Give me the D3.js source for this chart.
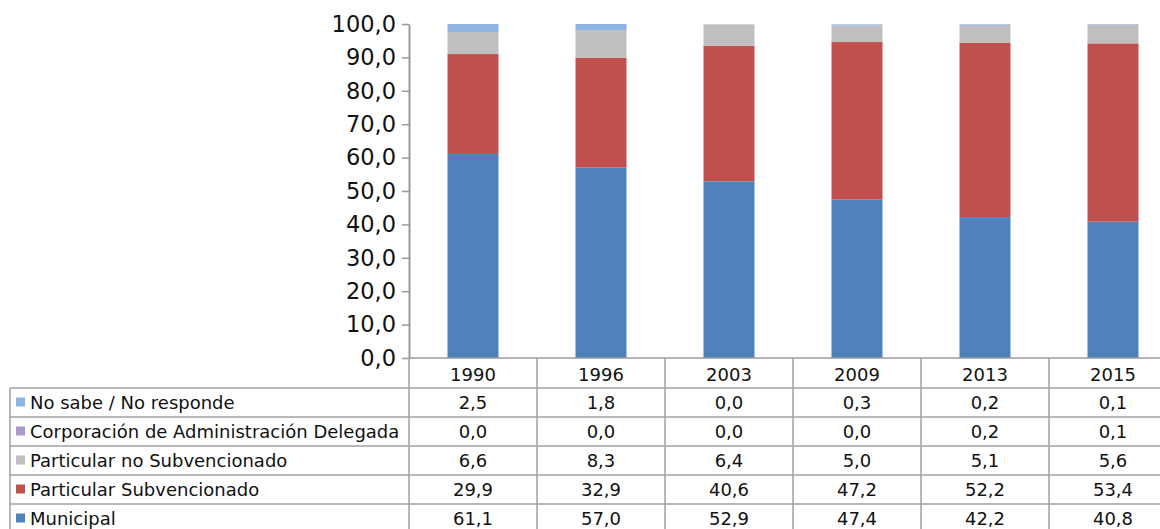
<!DOCTYPE html>
<html><head><meta charset="utf-8">
<script src="https://cdn.jsdelivr.net/npm/d3@7"></script>
<style>body{margin:0;background:#fff;}svg{display:block;font-family:"DejaVu Sans",Verdana,sans-serif;}</style>
</head><body><svg id="c" width="1160" height="529"></svg>
<script>
const years = ["1990","1996","2003","2009","2013","2015"];
const seriesNames = ["No sabe / No responde","Corporación de Administración Delegada","Particular no Subvencionado","Particular Subvencionado","Municipal"];
const noSabe = [2.5,1.8,0.0,0.3,0.2,0.1];
const corporacion = [0.0,0.0,0.0,0.0,0.2,0.1];
const particularNoSub = [6.6,8.3,6.4,5.0,5.1,5.6];
const particularSub = [29.9,32.9,40.6,47.2,52.2,53.4];
const municipal = [61.1,57.0,52.9,47.4,42.2,40.8];
const colors = ["#8DB4E2","#A99BC9","#BFBFBF","#C0504D","#4F81BD"];
const yTicks = [0,10,20,30,40,50,60,70,80,90,100];

const seriesValues = [noSabe, corporacion, particularNoSub, particularSub, municipal];
const svg = d3.select("#c");
const loc = d3.formatLocale({decimal:",",thousands:".",grouping:[3],currency:["","€"]});
const fmt = loc.format(".1f");

const x = d3.scaleBand().domain(years).range([409,1177]).paddingInner(0);
const y = d3.scaleLinear().domain([0,100]).range([358,24]);
const barW = 51;

const rows = years.map((yr,i)=>{const o={year:yr}; seriesNames.forEach((s,k)=>o[s]=seriesValues[k][i]); return o;});
const stackKeys = seriesNames.slice().reverse();
const stacked = d3.stack().keys(stackKeys)(rows);
stacked.forEach(layer=>{
  const col = colors[seriesNames.indexOf(layer.key)];
  svg.append("g").selectAll("rect").data(layer).join("rect")
    .attr("x",d=>x(d.data.year)+x.bandwidth()/2-barW/2)
    .attr("width",barW)
    .attr("y",d=>y(Math.min(d[1],100)))
    .attr("height",d=>Math.max(0,y(d[0])-y(Math.min(d[1],100))))
    .attr("fill",col);
});

const yAxis = svg.append("g").attr("transform","translate(409,0)")
  .call(d3.axisLeft(y).tickValues(yTicks).tickFormat(fmt).tickSize(7).tickSizeOuter(0));
yAxis.select(".domain").attr("stroke","#9a9a9a").attr("stroke-width",2);
yAxis.selectAll(".tick line").attr("stroke","#9a9a9a").attr("stroke-width",1.5);
yAxis.selectAll(".tick text").attr("font-size",22.5).attr("fill","#111").attr("x",-13)
  .attr("font-family","DejaVu Sans, Verdana, sans-serif");

svg.append("line").attr("x1",409).attr("x2",1177).attr("y1",358).attr("y2",358).attr("stroke","#9a9a9a").attr("stroke-width",1.5);

const rowTop = 388, rowH = 29;
const gridCol = "#a0a0a0";
const fs = 18;
const g = svg.append("g");
for(let r=0;r<=seriesNames.length;r++){
  g.append("line").attr("x1",10).attr("x2",1177).attr("y1",rowTop+r*rowH).attr("y2",rowTop+r*rowH).attr("stroke",gridCol).attr("stroke-width",1.5);
}
g.append("line").attr("x1",10).attr("x2",10).attr("y1",rowTop).attr("y2",540).attr("stroke",gridCol).attr("stroke-width",1.5);
years.forEach((yr,i)=>{
  const xl = x(yr);
  g.append("line").attr("x1",xl).attr("x2",xl).attr("y1",358).attr("y2",540).attr("stroke",gridCol).attr("stroke-width",1.5);
});
g.selectAll("text.yr").data(years).join("text").attr("class","yr")
  .attr("x",d=>x(d)+x.bandwidth()/2).attr("y",381).attr("text-anchor","middle")
  .attr("font-size",fs).attr("fill","#111").text(d=>d);
seriesNames.forEach((s,k)=>{
  const cy = rowTop + k*rowH + rowH/2;
  g.append("rect").attr("x",16).attr("y",cy-5).attr("width",9).attr("height",9).attr("fill",colors[k]);
  g.append("text").attr("x",30).attr("y",cy+6.5).attr("font-size",fs).attr("fill","#111").text(s);
  g.selectAll(null).data(seriesValues[k]).join("text")
    .attr("x",(d,i)=>x(years[i])+x.bandwidth()/2).attr("y",cy+6.5).attr("text-anchor","middle")
    .attr("font-size",fs).attr("fill","#111").text(d=>fmt(d));
});
</script></body></html>
